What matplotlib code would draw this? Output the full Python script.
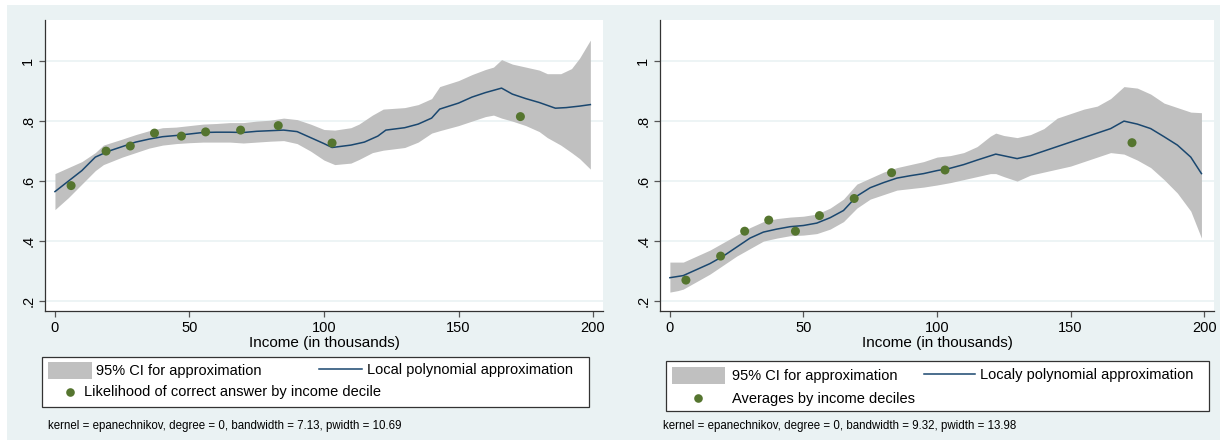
import matplotlib
matplotlib.use("Agg")
import matplotlib.pyplot as plt
from matplotlib.patches import Rectangle
from matplotlib.lines import Line2D

plt.rcParams['font.family'] = ['Liberation Sans', 'DejaVu Sans']

W, H = 1221, 447
BG = '#EAF2F3'
CI_COL = '#C0C0C0'
LINE_COL = '#1A476F'
DOT_COL = '#55752F'

# ---- left panel data ----
l_dec_x = [6, 19, 28, 37, 47, 56, 69, 83, 103, 173]
l_dec_y = [0.585, 0.70, 0.717, 0.76, 0.75, 0.764, 0.77, 0.785, 0.727, 0.815]

l_fit_x = [0, 5, 10, 15, 20, 25, 30, 35, 40, 45, 50, 55, 60, 65, 70, 75, 80, 85,
           90, 95, 100, 103, 110, 115, 120, 123, 130, 135, 140, 143, 150, 155,
           160, 166, 170, 175, 180, 186, 190, 195, 199]
l_fit_y = [0.565, 0.60, 0.635, 0.68, 0.70, 0.715, 0.73, 0.74, 0.748, 0.752, 0.757,
           0.762, 0.763, 0.763, 0.762, 0.766, 0.768, 0.77, 0.765, 0.745, 0.725,
           0.712, 0.72, 0.73, 0.75, 0.77, 0.778, 0.79, 0.81, 0.84, 0.86, 0.88,
           0.895, 0.91, 0.89, 0.875, 0.862, 0.843, 0.845, 0.85, 0.855]

l_ci_x = [0, 5, 10, 15, 18, 25, 30, 35, 40, 45, 50, 55, 60, 65, 70, 75, 80, 85,
          90, 95, 100, 104, 110, 113, 118, 122, 130, 135, 140, 143, 150, 155,
          160, 163, 166, 170, 175, 180, 183, 188, 192, 195, 199]
l_ci_hi = [0.625, 0.645, 0.665, 0.695, 0.72, 0.74, 0.755, 0.768, 0.778, 0.78,
           0.785, 0.79, 0.792, 0.795, 0.795, 0.80, 0.803, 0.81, 0.805, 0.79,
           0.772, 0.77, 0.778, 0.79, 0.82, 0.84, 0.845, 0.855, 0.875, 0.915,
           0.935, 0.955, 0.972, 0.98, 1.005, 0.99, 0.98, 0.97, 0.958, 0.958,
           0.975, 1.01, 1.07]
l_ci_lo = [0.505, 0.545, 0.59, 0.635, 0.655, 0.68, 0.695, 0.71, 0.72, 0.725,
           0.728, 0.73, 0.73, 0.73, 0.727, 0.73, 0.733, 0.735, 0.725, 0.70,
           0.67, 0.655, 0.66, 0.672, 0.695, 0.703, 0.712, 0.73, 0.76, 0.768,
           0.785, 0.80, 0.815, 0.82, 0.81, 0.80, 0.785, 0.765, 0.745, 0.72,
           0.695, 0.675, 0.64]

# ---- right panel data ----
r_dec_x = [6, 19, 28, 37, 47, 56, 69, 83, 103, 173]
r_dec_y = [0.27, 0.35, 0.433, 0.47, 0.433, 0.485, 0.542, 0.628, 0.637, 0.728]

r_fit_x = [0, 5, 10, 15, 20, 25, 30, 35, 40, 45, 50, 55, 60, 65, 70, 75, 80, 85,
           90, 95, 100, 105, 110, 115, 122, 130, 135, 140, 145, 150, 155, 160,
           165, 170, 175, 180, 185, 190, 195, 199]
r_fit_y = [0.278, 0.285, 0.305, 0.325, 0.35, 0.38, 0.41, 0.43, 0.44, 0.448, 0.452,
           0.46, 0.478, 0.502, 0.55, 0.578, 0.595, 0.61, 0.618, 0.625, 0.635,
           0.643, 0.655, 0.67, 0.69, 0.675, 0.685, 0.70, 0.715, 0.73, 0.745,
           0.76, 0.775, 0.80, 0.79, 0.775, 0.748, 0.72, 0.68, 0.625]

r_ci_x = [0, 3, 5, 10, 15, 20, 25, 30, 35, 40, 45, 50, 55, 60, 65, 70, 75, 80,
          85, 90, 95, 100, 105, 110, 115, 120, 122, 125, 130, 135, 140, 145,
          150, 155, 160, 165, 170, 175, 180, 185, 190, 195, 199]
r_ci_hi = [0.33, 0.33, 0.33, 0.35, 0.37, 0.395, 0.42, 0.445, 0.465, 0.475,
           0.48, 0.483, 0.49, 0.51, 0.54, 0.59, 0.61, 0.63, 0.645, 0.655,
           0.665, 0.68, 0.685, 0.695, 0.715, 0.75, 0.76, 0.752, 0.745, 0.755,
           0.775, 0.81, 0.825, 0.84, 0.85, 0.875, 0.915, 0.91, 0.89, 0.86,
           0.845, 0.83, 0.828]
r_ci_lo = [0.23, 0.235, 0.24, 0.265, 0.29, 0.32, 0.35, 0.375, 0.40, 0.41,
           0.418, 0.42, 0.425, 0.44, 0.465, 0.51, 0.54, 0.555, 0.57, 0.575,
           0.58, 0.587, 0.595, 0.605, 0.615, 0.625, 0.625, 0.615, 0.60, 0.62,
           0.63, 0.64, 0.65, 0.665, 0.68, 0.695, 0.69, 0.67, 0.645, 0.605,
           0.56, 0.50, 0.41]

x_ticks = [0, 50, 100, 150, 200]
y_ticks = [0.2, 0.4, 0.6, 0.8, 1.0]
y_tick_labels = ['.2', '.4', '.6', '.8', '1']
x_title = 'Income (in thousands)'


def px(x0, y0, x1, y1):
    # pixel box (top-left origin) -> figure fraction [left, bottom, width, height]
    return [x0 / W, 1 - y1 / H, (x1 - x0) / W, (y1 - y0) / H]


def draw_panel(ax, ci_x, ci_lo, ci_hi, fit_x, fit_y, dec_x, dec_y):
    ax.set_facecolor('white')
    ax.fill_between(ci_x, ci_lo, ci_hi, color=CI_COL, lw=0, zorder=2)
    ax.plot(fit_x, fit_y, color=LINE_COL, lw=1.1, zorder=3)
    ax.scatter(dec_x, dec_y, s=42, color=DOT_COL, edgecolors='none', zorder=4)
    ax.set_xlim(-3.7, 203.7)
    ax.set_ylim(0.167, 1.137)
    ax.set_xticks(x_ticks)
    ax.set_yticks(y_ticks)
    ax.set_yticklabels(y_tick_labels, rotation=90, va='center')
    ax.grid(axis='y', color=BG, lw=1.2, zorder=1)
    ax.set_axisbelow(True)
    for s in ('top', 'right'):
        ax.spines[s].set_visible(False)
    for s in ('left', 'bottom'):
        ax.spines[s].set_color('#333333')
        ax.spines[s].set_linewidth(0.9)
    ax.tick_params(length=4, width=0.9, color='#555555', labelsize=10.5,
                   labelcolor='black', pad=3)
    ax.set_xlabel(x_title, fontsize=11, labelpad=1)


fig = plt.figure(figsize=(W / 100, H / 100), dpi=100)
fig.patch.set_facecolor('white')
fig.add_artist(Rectangle((7 / W, 7 / H), (W - 8) / W, (H - 12) / H,
                         transform=fig.transFigure, facecolor=BG,
                         edgecolor='none', zorder=0))

ax1 = fig.add_axes(px(45, 20, 603, 311))
draw_panel(ax1, l_ci_x, l_ci_lo, l_ci_hi, l_fit_x, l_fit_y, l_dec_x, l_dec_y)
ax2 = fig.add_axes(px(660, 20, 1214, 311))
draw_panel(ax2, r_ci_x, r_ci_lo, r_ci_hi, r_fit_x, r_fit_y, r_dec_x, r_dec_y)


def fx(x):
    return x / W


def fy(y):
    return 1 - y / H


def legend_box(box, patch, ci_text_x, line, line_text, dot, dot_text_x, dot_text,
               row1_y, row2_y):
    x0, y0, x1, y1 = box
    fig.add_artist(Rectangle((fx(x0), fy(y1)), fx(x1 - x0), (y1 - y0) / H,
                             transform=fig.transFigure, facecolor='white',
                             edgecolor='#333333', lw=0.9, zorder=5))
    px0, py0, px1, py1 = patch
    fig.add_artist(Rectangle((fx(px0), fy(py1)), fx(px1 - px0), (py1 - py0) / H,
                             transform=fig.transFigure, facecolor=CI_COL,
                             edgecolor='none', zorder=6))
    fig.text(fx(ci_text_x), fy(row1_y), '95% CI for approximation', fontsize=10.5,
             va='center', ha='left', zorder=7)
    lx0, lx1, ly = line
    fig.add_artist(Line2D([fx(lx0), fx(lx1)], [fy(ly), fy(ly)],
                          transform=fig.transFigure, color=LINE_COL, lw=1.1,
                          zorder=6))
    fig.text(fx(lx1 + 5), fy(row1_y - 1), line_text, fontsize=10.5, va='center',
             ha='left', zorder=7)
    fig.add_artist(Line2D([fx(dot[0])], [fy(dot[1])], transform=fig.transFigure,
                          marker='o', markersize=6.2, color=DOT_COL,
                          markeredgecolor='none', linestyle='none', zorder=6))
    fig.text(fx(dot_text_x), fy(row2_y), dot_text, fontsize=10.5, va='center',
             ha='left', zorder=7)


legend_box((42, 357, 589, 407), (48, 362, 92, 379), 96, (319, 362, 369),
           'Local polynomial approximation', (70, 392), 84,
           'Likelihood of correct answer by income decile', 371, 392)
legend_box((666, 361, 1209, 411), (672, 367, 725, 384), 732, (924, 975, 374),
           'Localy polynomial approximation', (698, 398), 732,
           'Averages by income deciles', 376, 399)

fig.text(fx(48), fy(426), 'kernel = epanechnikov, degree = 0, bandwidth = 7.13, pwidth = 10.69',
         fontsize=8.3, va='center', ha='left')
fig.text(fx(663), fy(426), 'kernel = epanechnikov, degree = 0, bandwidth = 9.32, pwidth = 13.98',
         fontsize=8.3, va='center', ha='left')

fig.savefig('out.png', dpi=100, facecolor=fig.get_facecolor())
